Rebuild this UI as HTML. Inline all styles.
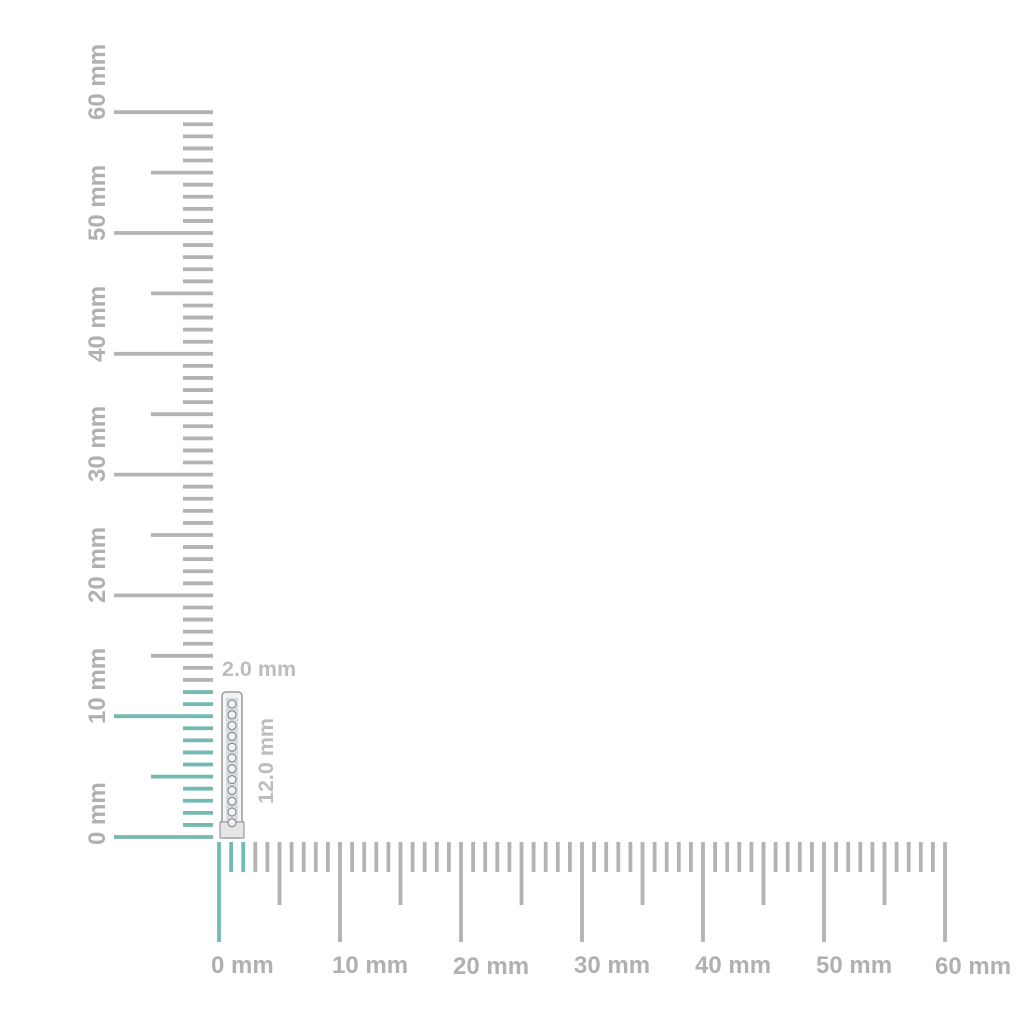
<!DOCTYPE html>
<html><head><meta charset="utf-8"><style>
html,body{margin:0;padding:0;background:#fff;}
svg{display:block;}
text{font-family:"Liberation Sans",sans-serif;font-weight:bold;fill:#b0b0b0;font-size:24px;}
</style></head><body>
<svg id="s" width="1024" height="1024" viewBox="0 0 1024 1024">
<g id="ticks"></g>
<text x="211" y="973">0 mm</text>
<text x="332" y="973">10 mm</text>
<text x="453" y="974">20 mm</text>
<text x="574" y="973">30 mm</text>
<text x="695" y="973">40 mm</text>
<text x="816" y="973">50 mm</text>
<text x="935" y="974">60 mm</text>
<text transform="translate(105,845) rotate(-90)">0 mm</text>
<text transform="translate(105,724) rotate(-90)">10 mm</text>
<text transform="translate(105,603) rotate(-90)">20 mm</text>
<text transform="translate(105,482) rotate(-90)">30 mm</text>
<text transform="translate(105,362) rotate(-90)">40 mm</text>
<text transform="translate(105,241) rotate(-90)">50 mm</text>
<text transform="translate(105,120) rotate(-90)">60 mm</text>
<text x="222" y="676" style="font-size:21.5px;fill:#bdbdbd">2.0 mm</text>
<text transform="translate(273,804) rotate(-90)" style="font-size:21.5px;fill:#bdbdbd">12.0 mm</text>
<g id="jewel">
<rect x="222" y="692" width="20" height="146" rx="4" fill="#f4f4f4" stroke="#9a9a9a" stroke-width="1.5"/>
<rect x="226" y="698" width="12" height="124" fill="#d8dade"/>
<rect x="220" y="822" width="24" height="16" fill="#e6e6e6" stroke="#888" stroke-width="1"/>
</g>
</svg>
<script>
var g=document.getElementById('ticks'),h='';
var grey='#b3b3b3',teal='#72bab3';
for(var i=0;i<=60;i++){
 var y=837-i*12.08, x1=(i%10==0)?114:(i%5==0?151:183);
 var c=i<=12?teal:grey;
 h+='<line x1="'+x1+'" y1="'+y+'" x2="213" y2="'+y+'" stroke="'+c+'" stroke-width="3.8"/>';
 var x=219+i*12.1, y2=(i%10==0)?942:(i%5==0?905:872);
 var c2=i<=2?teal:grey;
 h+='<line x1="'+x+'" y1="842" x2="'+x+'" y2="'+y2+'" stroke="'+c2+'" stroke-width="3.8"/>';
}
g.innerHTML=h;
var j='';
for(var k=0;k<12;k++){var cy=704+k*10.8;j+='<circle cx="232" cy="'+cy+'" r="4" fill="#eef3f6" stroke="#7a8088" stroke-width="1"/>';}
document.getElementById('jewel').insertAdjacentHTML('beforeend',j);
</script>
</body></html>
